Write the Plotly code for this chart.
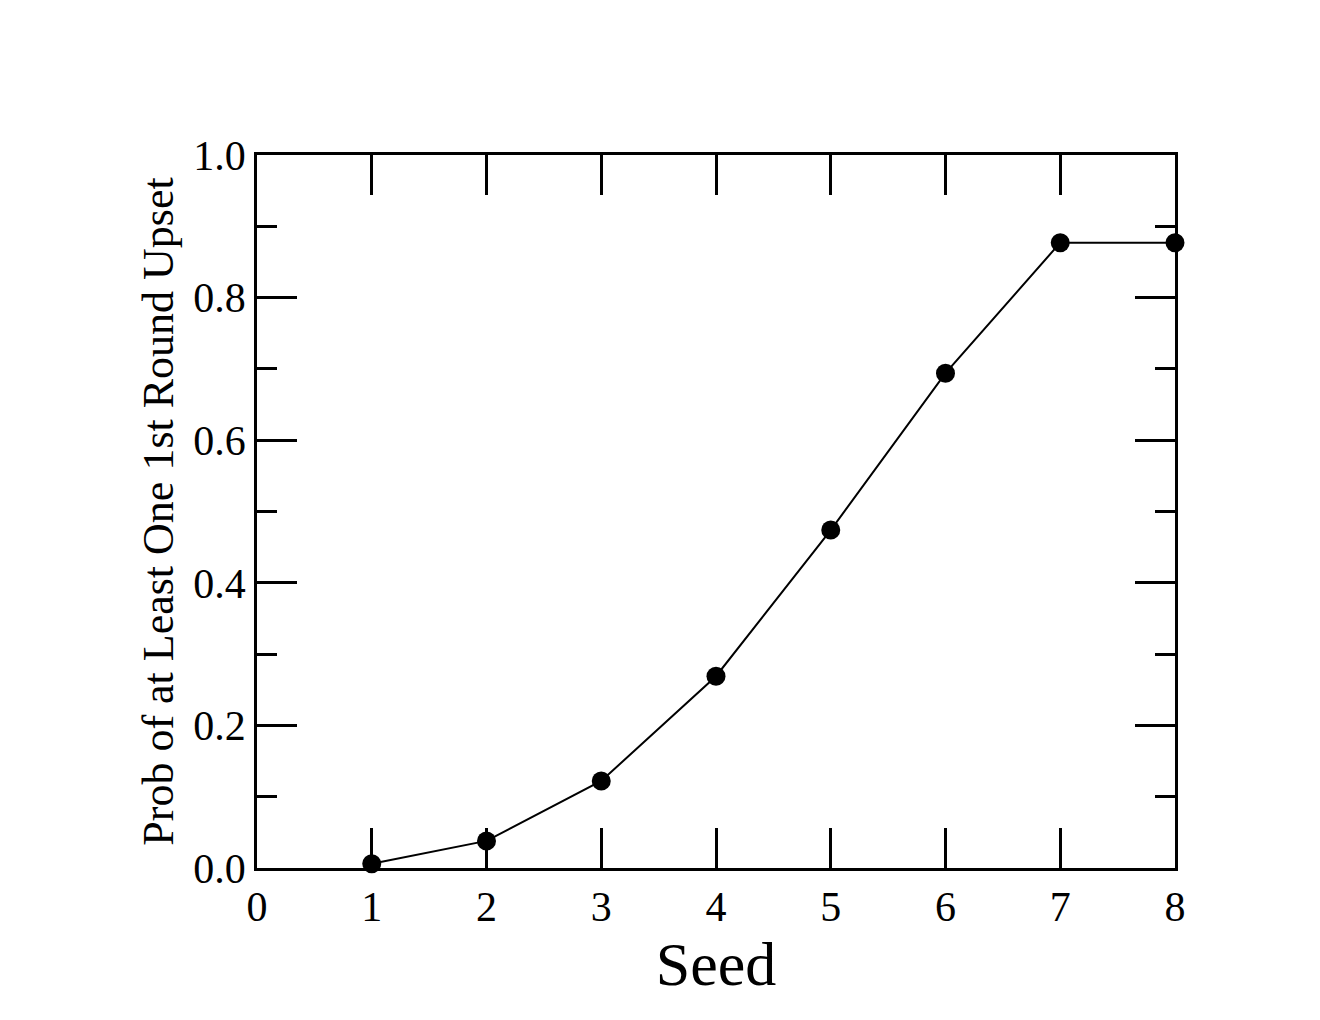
import plotly.graph_objects as go

seeds = [1, 2, 3, 4, 5, 6, 7, 8]
prob_upset = [0.006, 0.038, 0.122, 0.269, 0.474, 0.694, 0.877, 0.877]

fig = go.Figure(go.Scatter(
    x=seeds, y=prob_upset, mode="lines+markers",
    line=dict(color="black", width=2),
    marker=dict(color="black", size=19),
    cliponaxis=False,
))

font = dict(family="Liberation Serif", color="black")
fig.update_layout(
    width=1320, height=1020,
    margin=dict(l=249, r=153, t=147, b=160),
    plot_bgcolor="white", paper_bgcolor="white",
    showlegend=False,
    font=dict(**font, size=42),
)
fig.update_xaxes(
    range=[0, 8], dtick=1, showgrid=False, zeroline=False,
    showline=True, linecolor="black", linewidth=2.5, mirror="ticks",
    ticks="inside", ticklen=40, tickwidth=2.5, tickcolor="black",
    tickfont=dict(**font, size=42),
    title=dict(text="Seed", font=dict(**font, size=62), standoff=4),
)
fig.update_yaxes(
    range=[0, 1], dtick=0.2, tickformat=".1f", showgrid=False, zeroline=False,
    showline=True, linecolor="black", linewidth=2.5, mirror="ticks",
    ticks="inside", ticklen=40, tickwidth=2.5, tickcolor="black",
    minor=dict(dtick=0.1, ticks="inside", ticklen=20, tickwidth=2.5, tickcolor="black"),
    tickfont=dict(**font, size=42),
    title=dict(text="Prob of at Least One 1st Round Upset", font=dict(**font, size=44), standoff=6),
)

fig.write_html("out.html")
